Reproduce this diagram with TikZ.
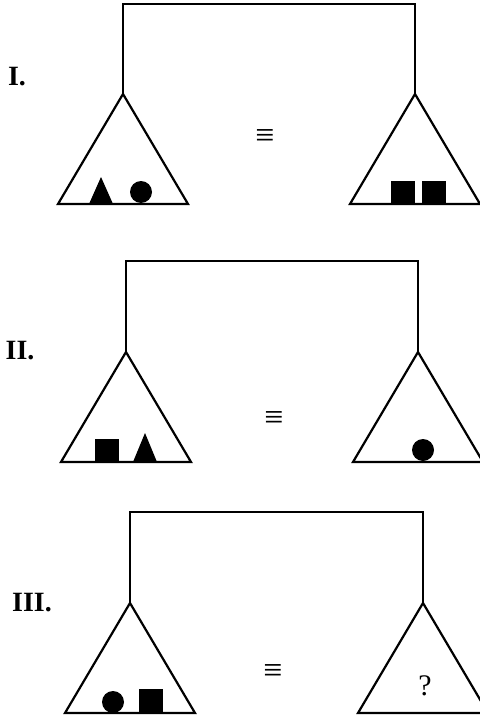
\documentclass[tikz,border=0pt]{standalone}
\usepackage{fontspec}
\setmainfont{Liberation Serif}
\begin{document}
\begin{tikzpicture}[x=1bp,y=-1bp,
  bar/.style={line width=1.3bp},
  pan/.style={line width=2.2bp},
  blk/.style={fill=black},
  lbl/.style={font=\bfseries\fontsize{28}{32}\selectfont, inner sep=0pt},
  eqv/.style={font=\fontsize{34}{38}\selectfont, inner sep=0pt},
  qm/.style={font=\fontsize{30}{34}\selectfont, inner sep=0pt},
]
\useasboundingbox (0,0) rectangle (480,720);
\clip (0,0) rectangle (480,720);

% ---------- Panel I ----------
\begin{scope}[shift={(123,4)}]
  \coordinate (Ia) at (0,0);
  \coordinate (Ib) at (292,0);
  \coordinate (IL) at (0,90);
  \coordinate (IR) at (292,90);
  \draw[bar] (IL) -- (Ia) -- (Ib) -- (IR);
  \draw[pan] (IL) -- ++(-65,110) -- ++(130,0) -- cycle;
  \draw[pan] (IR) -- ++(-65,110) -- ++(130,0) -- cycle;
  \fill[blk] (-34,200) -- (-22,173) -- (-10,200) -- cycle;
  \fill[blk] (18,188) circle (11);
  \fill[blk] (268,177) rectangle (292,200);
  \fill[blk] (299,177) rectangle (323,200);
\end{scope}
\node[lbl] (l1) at (17,77) {I.};
\node[eqv] (e1) at (265,138) {≡};

% ---------- Panel II ----------
\begin{scope}[shift={(126,261)}]
  \coordinate (IIa) at (0,0);
  \coordinate (IIb) at (292,0);
  \coordinate (IIL) at (0,91);
  \coordinate (IIR) at (292,91);
  \draw[bar] (IIL) -- (IIa) -- (IIb) -- (IIR);
  \draw[pan] (IIL) -- ++(-65,110) -- ++(130,0) -- cycle;
  \draw[pan] (IIR) -- ++(-65,110) -- ++(130,0) -- cycle;
  \fill[blk] (-31,178) rectangle (-7,201);
  \fill[blk] (7,201) -- (19,172) -- (31,201) -- cycle;
  \fill[blk] (297,189) circle (11);
\end{scope}
\node[lbl] (l2) at (20,351) {II.};
\node[eqv] (e2) at (274,420) {≡};

% ---------- Panel III ----------
\begin{scope}[shift={(130,512)}]
  \coordinate (IIIa) at (0,0);
  \coordinate (IIIb) at (293,0);
  \coordinate (IIIL) at (0,91);
  \coordinate (IIIR) at (293,91);
  \draw[bar] (IIIL) -- (IIIa) -- (IIIb) -- (IIIR);
  \draw[pan] (IIIL) -- ++(-65,110) -- ++(130,0) -- cycle;
  \draw[pan] (IIIR) -- ++(-65,110) -- ++(130,0) -- cycle;
  \fill[blk] (-17,190) circle (11);
  \fill[blk] (9,177) rectangle (33,201);
\end{scope}
\node[lbl] (l3) at (32,603) {III.};
\node[eqv] (e3) at (273,673) {≡};
\node[qm] (q3) at (425,686) {?};
\end{tikzpicture}
\end{document}
